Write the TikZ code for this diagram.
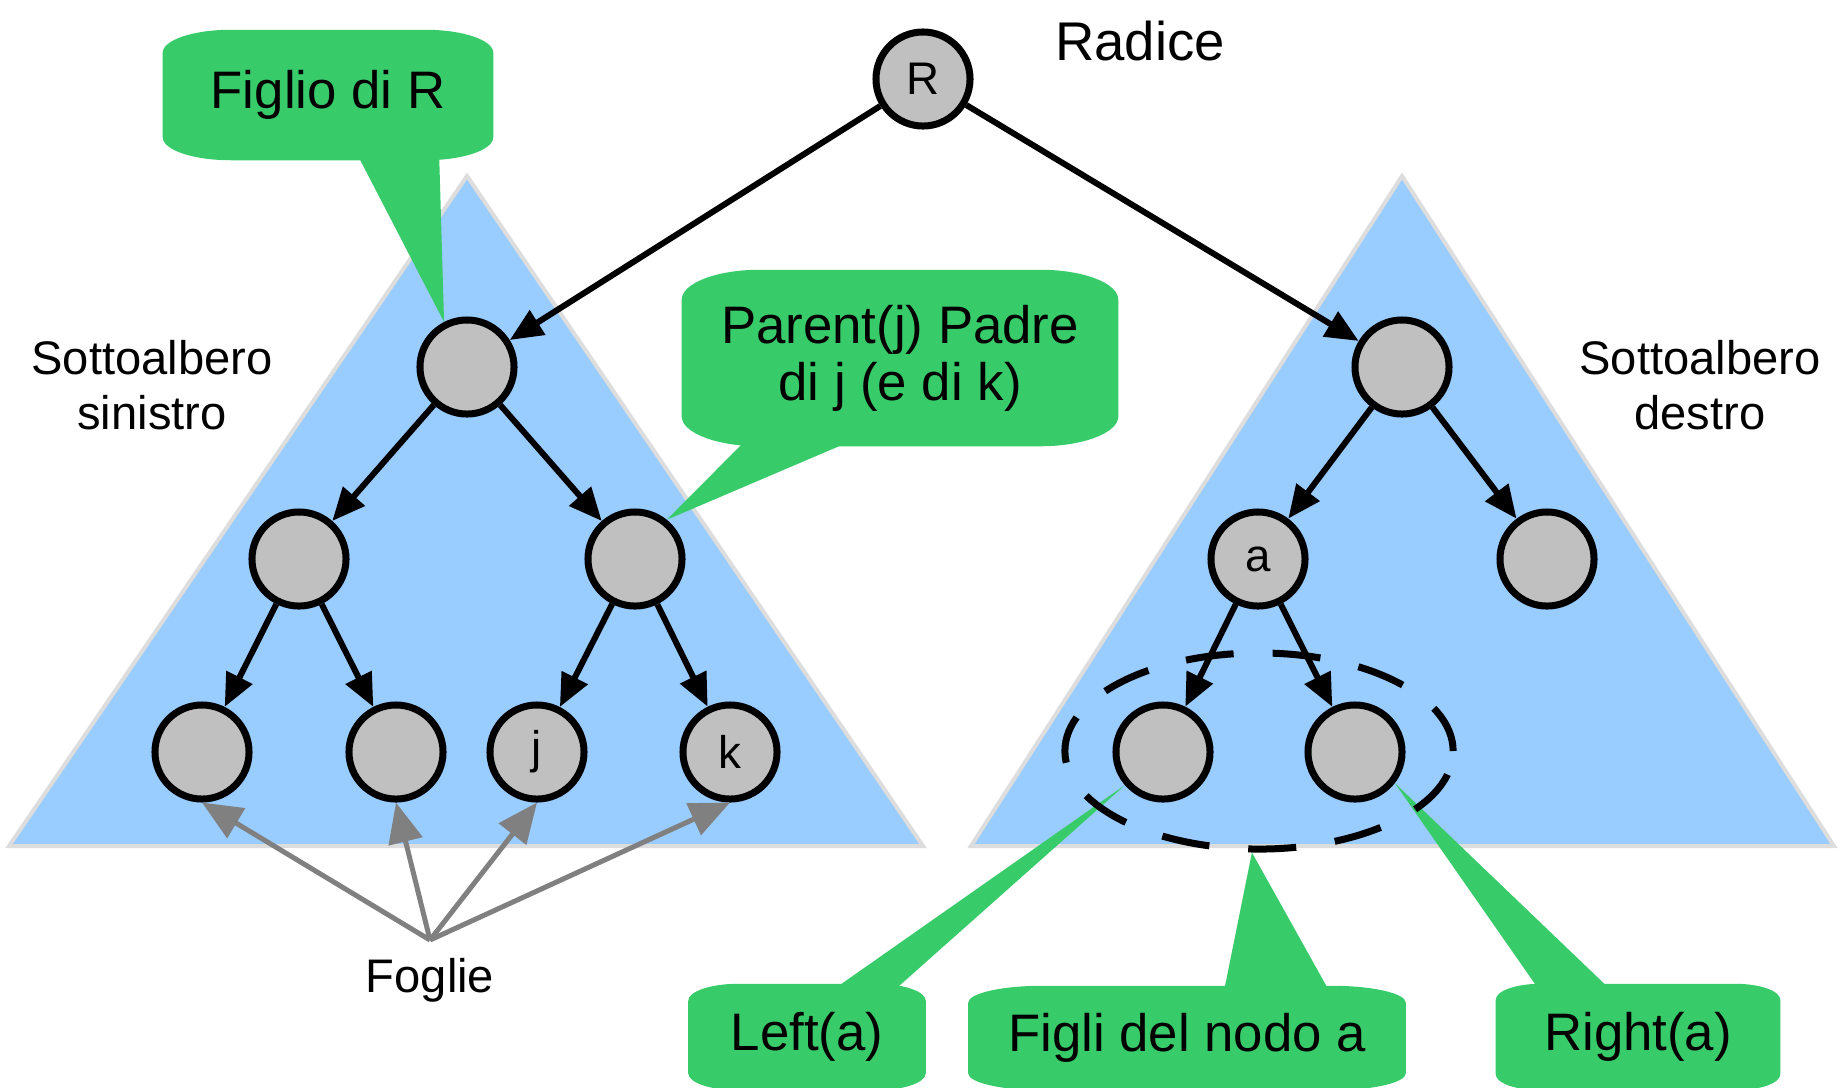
\documentclass[tikz,border=0pt]{standalone}
\usepackage{fontspec}
\setmainfont{Liberation Sans}
\usetikzlibrary{arrows.meta,shapes.geometric}
\definecolor{subtreeblue}{HTML}{99CCFF}
\definecolor{subtreeedge}{HTML}{DDDDDD}
\definecolor{nodegray}{HTML}{C0C0C0}
\definecolor{bubblegreen}{HTML}{37CB6A}
\definecolor{leafgray}{HTML}{808080}
\pgfdeclarelayer{back}
\pgfdeclarelayer{mid}
\pgfsetlayers{back,mid,main}
% green speech bubble behind a text node: node, x radius, y radius of the corners
\newcommand{\bubble}[3]{%
\begin{pgfonlayer}{mid}
\fill[bubblegreen] ([xshift=#2]#1.north west) -- ([xshift=-#2]#1.north east)
  arc[start angle=90, end angle=0, x radius=#2, y radius=#3]
  -- ([yshift=#3]#1.south east)
  arc[start angle=0, end angle=-90, x radius=#2, y radius=#3]
  -- ([xshift=#2]#1.south west)
  arc[start angle=270, end angle=180, x radius=#2, y radius=#3]
  -- ([yshift=-#3]#1.north west)
  arc[start angle=180, end angle=90, x radius=#2, y radius=#3] -- cycle;
\end{pgfonlayer}}
\begin{document}
\begin{tikzpicture}[x=0.01cm, y=-0.01cm,
  tnode/.style={circle, draw, line width=.07cm, fill=nodegray, minimum size=.94cm, inner sep=0pt, font=\fontsize{13}{15}\selectfont},
  edge/.style={line width=.06cm, -{Triangle[length=.33cm, width=.28cm]}},
  leafarrow/.style={leafgray, line width=.05cm, -{Triangle[length=.4cm, width=.34cm]}},
  subtree/.style={fill=subtreeblue, draw=subtreeedge, line width=.04cm},
  btext/.style={inner sep=0pt, align=center, font=\fontsize{15}{16.2}\selectfont},
  label/.style={align=center, font=\fontsize{13.4}{15.6}\selectfont},
  figliring/.style={ellipse, draw, line width=.07cm, dash pattern=on .48cm off .39cm, minimum width=3.88cm, minimum height=1.96cm, inner sep=0pt}]
\useasboundingbox (0,0) rectangle (1843,1087);
% sottoalberi
\begin{pgfonlayer}{back}
\draw[subtree] (467,176) -- (923,846) -- (9,846) -- cycle;
\draw[subtree] (1402,176) -- (1834,846) -- (971,846) -- cycle;
\end{pgfonlayer}
\node[label] (sinistro) at (152,385) {Sottoalbero\\sinistro};
\node[label] (destro) at (1700,385) {Sottoalbero\\destro};
\node[font=\fontsize{15.5}{18}\selectfont] (radice) at (1140,41) {Radice};
% albero
\node[tnode] (r) at (923,79) {R};
\node[tnode] (l1) at (467,367) {};
\node[tnode] (r1) at (1402,367) {};
\node[tnode] (l2a) at (299,559) {};
\node[tnode] (l2b) at (635,559) {};
\node[tnode] (a) at (1258,559) {a};
\node[tnode] (r2b) at (1547,559) {};
\node[tnode] (l3a) at (202,752) {};
\node[tnode] (l3b) at (396,752) {};
\node[tnode] (j) at (537,752) {j};
\node[tnode] (k) at (730,752) {k};
\node[tnode] (d1) at (1163,752) {};
\node[tnode] (d2) at (1355,752) {};
\draw[edge] (r) -- (l1);
\draw[edge] (r) -- (r1);
\draw[edge] (l1) -- (l2a);
\draw[edge] (l1) -- (l2b);
\draw[edge] (r1) -- (a);
\draw[edge] (r1) -- (r2b);
\draw[edge] (l2a) -- (l3a);
\draw[edge] (l2a) -- (l3b);
\draw[edge] (l2b) -- (j);
\draw[edge] (l2b) -- (k);
\draw[edge] (a) -- (d1);
\draw[edge] (a) -- (d2);
% foglie
\node[label] (foglie) at (430,980) {Foglie};
\coordinate (fo) at (430,940);
\draw[leafarrow] (fo) -- (l3a.south);
\draw[leafarrow] (fo) -- (l3b.south);
\draw[leafarrow] (fo) -- (j.south);
\draw[leafarrow] (fo) -- (k.south);
% fumetti
\node[btext, minimum width=3.29cm, minimum height=1.29cm] (figlio) at (328,95) {Figlio di R};
\bubble{figlio}{.68cm}{.23cm}
\node[btext, minimum width=4.35cm, minimum height=1.75cm] (padre) at (900,358) {Parent(j) Padre\\di j (e di k)};
\bubble{padre}{.78cm}{.3cm}
\node[btext, minimum width=2.36cm, minimum height=1.05cm] (left) at (807,1037) {Left(a)};
\bubble{left}{.5cm}{.17cm}
\node[btext, minimum width=4.36cm, minimum height=1.03cm] (figlinodo) at (1187,1038) {Figli del nodo a};
\bubble{figlinodo}{.74cm}{.17cm}
\node[btext, minimum width=2.83cm, minimum height=1.05cm] (right) at (1638,1037) {Right(a)};
\bubble{right}{.45cm}{.16cm}
\node[figliring] (figli) at (1259,751) {};
\begin{pgfonlayer}{mid}
\fill[bubblegreen] (355,150) -- (l1.117) -- (439,150) -- cycle;
\fill[bubblegreen] (750,436) -- (l2b.51) -- (863,436) -- cycle;
\fill[bubblegreen] (827,994) -- (d1.221) -- (890,994) -- cycle;
\fill[bubblegreen] (1223,996) -- (figli.266) -- (1332,996) -- cycle;
\fill[bubblegreen] (1542,994) -- (d2.-38) -- (1615,994) -- cycle;
\end{pgfonlayer}
\end{tikzpicture}
\end{document}
